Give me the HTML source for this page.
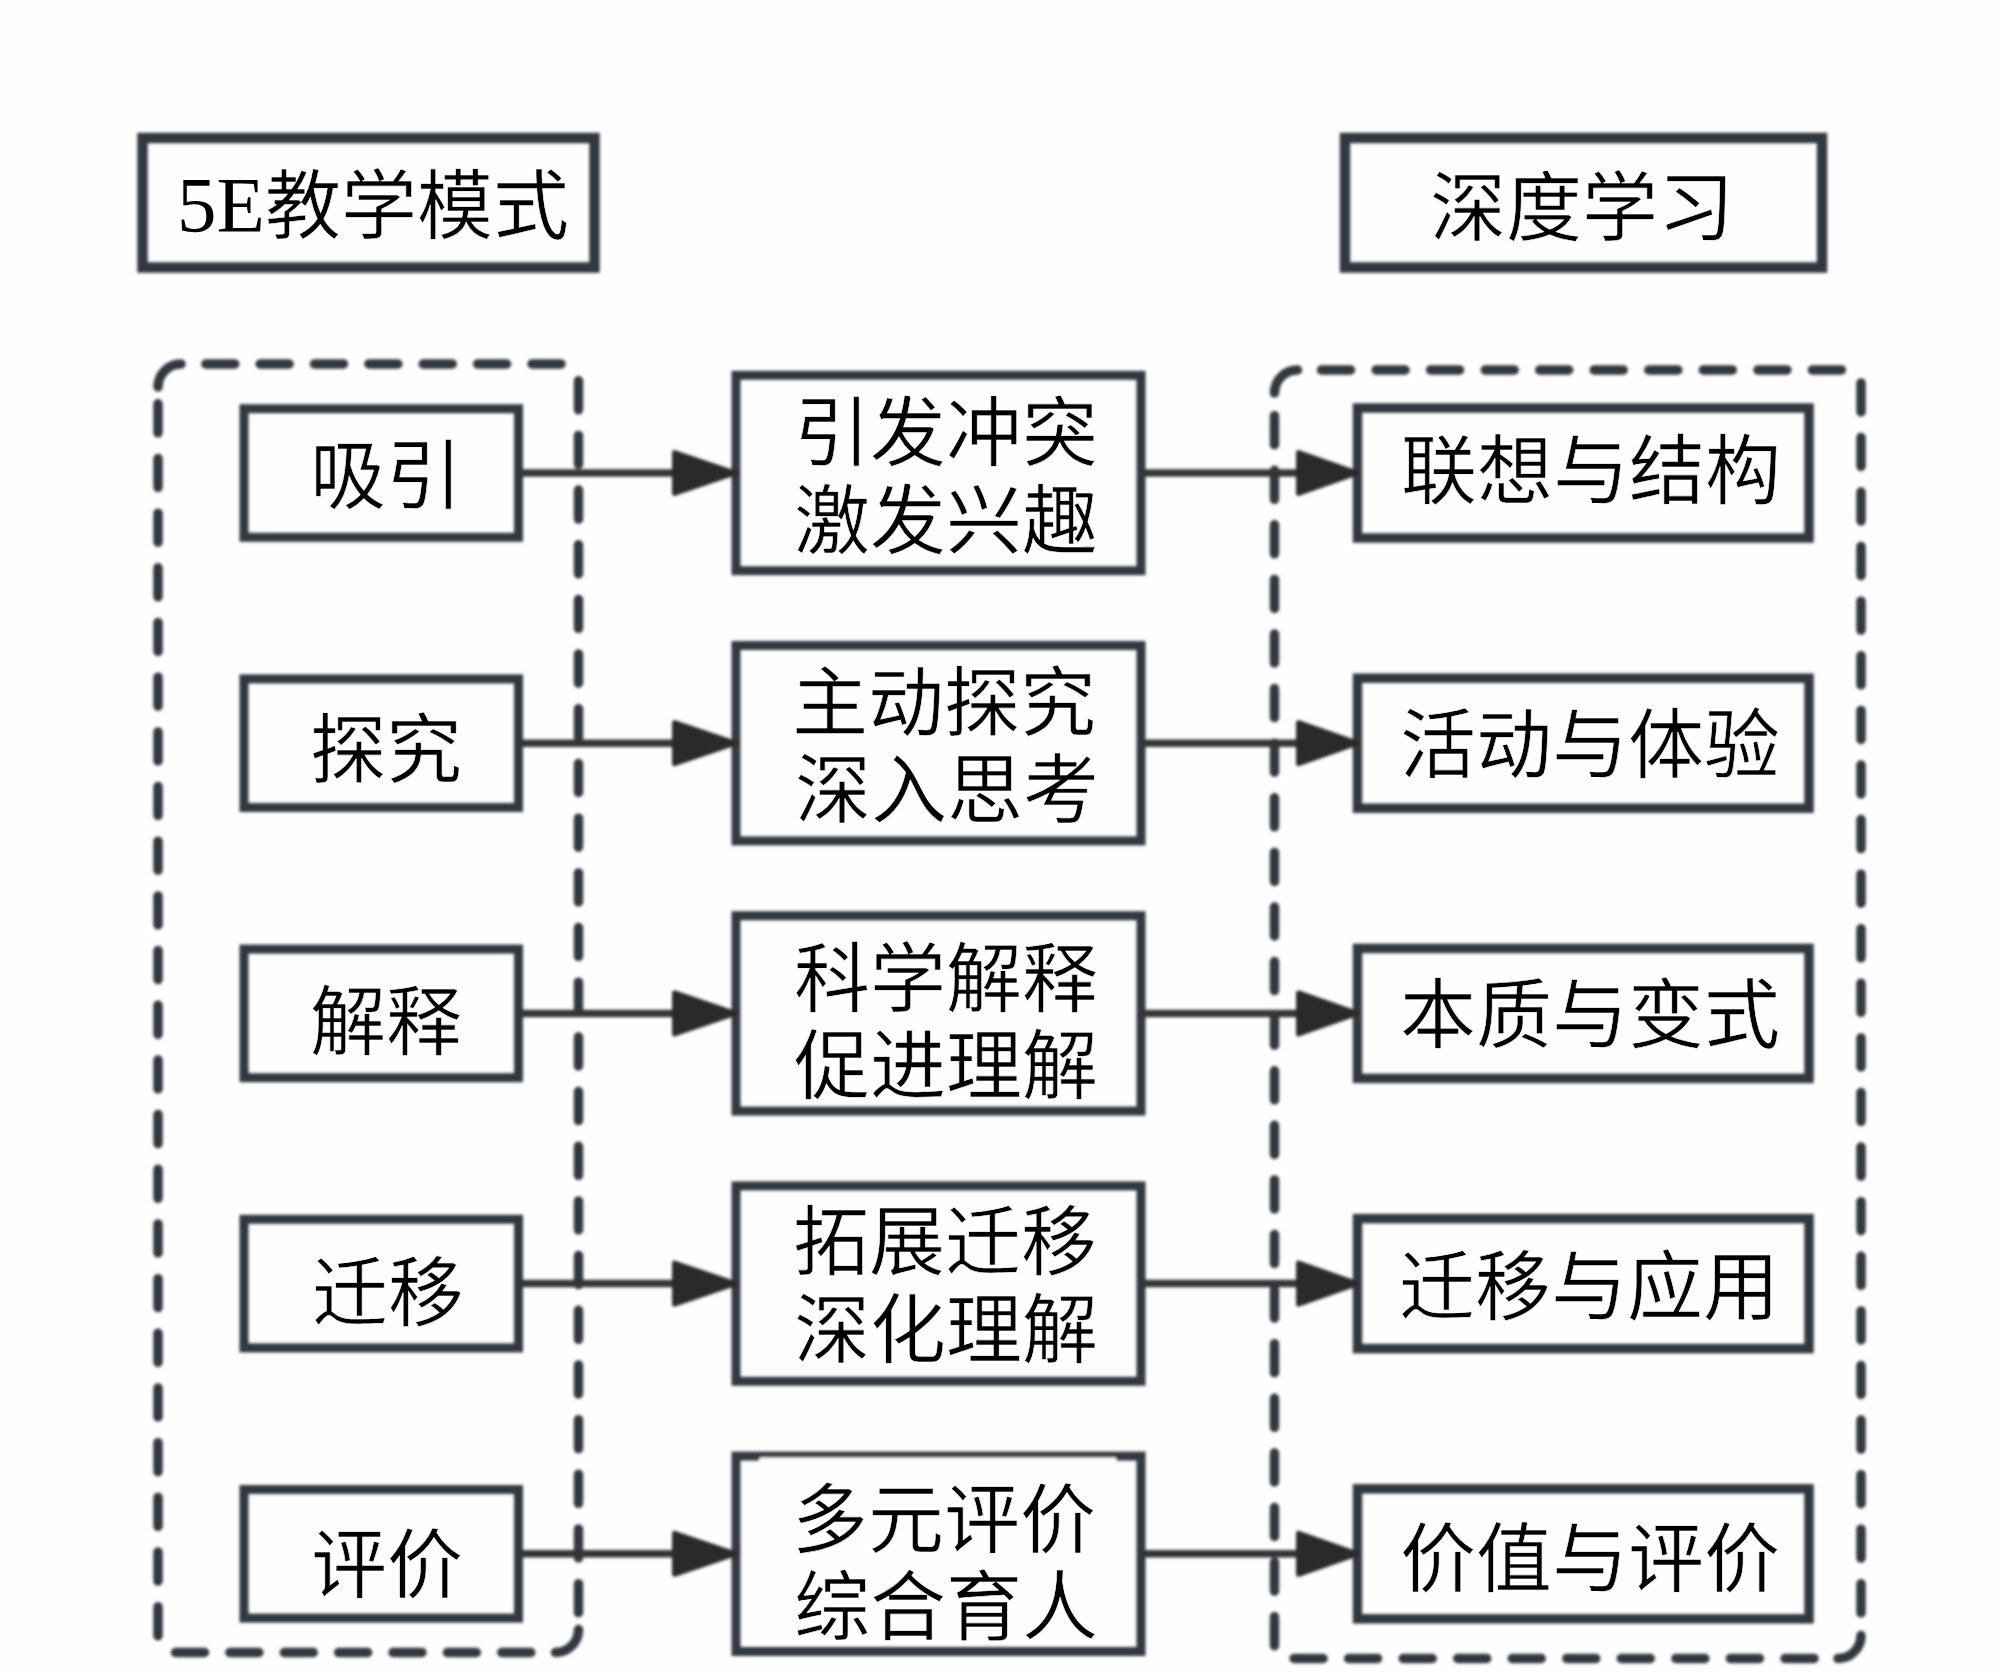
<!DOCTYPE html>
<html lang="zh-CN"><head><meta charset="utf-8"><style>
html,body{margin:0;padding:0;background:#fefefe;overflow:hidden;}
svg{display:block;}

text{font-family:"Liberation Serif",serif;font-size:76px;fill:#000;stroke:#fefefe;stroke-width:0.6px;paint-order:fill;}
</style></head><body>
<svg width="2000" height="1675" viewBox="0 0 2000 1675">
<defs><filter id="b" x="-2%" y="-2%" width="104%" height="104%"><feGaussianBlur stdDeviation="1.4"/></filter></defs>
<g filter="url(#b)">
<rect x="142.5" y="138" width="452.00" height="129.50" fill="none" stroke="#33393f" stroke-width="10.5"/>
<rect x="1345" y="138" width="477.00" height="129.50" fill="none" stroke="#33393f" stroke-width="10.5"/>
<path d="M205.8 364.0L234.8 364.0 M501.8 1652.5L530.8 1652.5 M260.1 364.0L289.1 364.0 M447.4 1652.5L476.4 1652.5 M314.5 364.0L343.5 364.0 M393.0 1652.5L422.0 1652.5 M368.9 364.0L397.9 364.0 M338.6 1652.5L367.6 1652.5 M423.2 364.0L452.2 364.0 M284.3 1652.5L313.3 1652.5 M477.6 364.0L506.6 364.0 M229.9 1652.5L258.9 1652.5 M532.0 364.0L561.0 364.0 M175.5 1652.5L204.5 1652.5 M578.5 380.8L578.5 409.8 M158.0 1606.8L158.0 1635.8 M578.5 435.4L578.5 464.4 M158.0 1552.1L158.0 1581.1 M578.5 490.1L578.5 519.1 M158.0 1497.4L158.0 1526.4 M578.5 544.8L578.5 573.8 M158.0 1442.7L158.0 1471.7 M578.5 599.5L578.5 628.5 M158.0 1388.0L158.0 1417.0 M578.5 654.1L578.5 683.1 M158.0 1333.3L158.0 1362.3 M578.5 708.8L578.5 737.8 M158.0 1278.7L158.0 1307.7 M578.5 763.5L578.5 792.5 M158.0 1224.0L158.0 1253.0 M578.5 818.2L578.5 847.2 M158.0 1169.3L158.0 1198.3 M578.5 872.9L578.5 901.9 M158.0 1114.6L158.0 1143.6 M578.5 927.5L578.5 956.5 M158.0 1060.0L158.0 1089.0 M578.5 982.2L578.5 1011.2 M158.0 1005.3L158.0 1034.3 M578.5 1036.9L578.5 1065.9 M158.0 950.6L158.0 979.6 M578.5 1091.6L578.5 1120.6 M158.0 895.9L158.0 924.9 M578.5 1146.3L578.5 1175.3 M158.0 841.2L158.0 870.2 M578.5 1201.0L578.5 1230.0 M158.0 786.5L158.0 815.5 M578.5 1255.6L578.5 1284.6 M158.0 731.9L158.0 760.9 M578.5 1310.3L578.5 1339.3 M158.0 677.2L158.0 706.2 M578.5 1365.0L578.5 1394.0 M158.0 622.5L158.0 651.5 M578.5 1419.7L578.5 1448.7 M158.0 567.8L158.0 596.8 M578.5 1474.3L578.5 1503.3 M158.0 513.2L158.0 542.2 M578.5 1529.0L578.5 1558.0 M158.0 458.5L158.0 487.5 M578.5 1583.7L578.5 1612.7 M158.0 403.8L158.0 432.8 M158 387 A23 23 0 0 1 181 364 M578.5 1629.5 A23 23 0 0 1 555.5 1652.5" fill="none" stroke="#33393f" stroke-width="9.5" stroke-linecap="round"/>
<path d="M1321.5 370.0L1350.5 370.0 M1785.0 1658.5L1814.0 1658.5 M1376.1 370.0L1405.1 370.0 M1730.4 1658.5L1759.4 1658.5 M1430.6 370.0L1459.6 370.0 M1675.9 1658.5L1704.9 1658.5 M1485.2 370.0L1514.2 370.0 M1621.3 1658.5L1650.3 1658.5 M1539.7 370.0L1568.7 370.0 M1566.8 1658.5L1595.8 1658.5 M1594.2 370.0L1623.2 370.0 M1512.2 1658.5L1541.2 1658.5 M1648.8 370.0L1677.8 370.0 M1457.7 1658.5L1486.7 1658.5 M1703.3 370.0L1732.3 370.0 M1403.2 1658.5L1432.2 1658.5 M1757.9 370.0L1786.9 370.0 M1348.6 1658.5L1377.6 1658.5 M1812.4 370.0L1841.4 370.0 M1294.1 1658.5L1323.1 1658.5 M1861.0 382.9L1861.0 411.9 M1274.5 1616.7L1274.5 1645.7 M1861.0 437.4L1861.0 466.4 M1274.5 1562.1L1274.5 1591.1 M1861.0 492.0L1861.0 521.0 M1274.5 1507.5L1274.5 1536.5 M1861.0 546.6L1861.0 575.6 M1274.5 1452.9L1274.5 1481.9 M1861.0 601.2L1861.0 630.2 M1274.5 1398.3L1274.5 1427.3 M1861.0 655.8L1861.0 684.8 M1274.5 1343.7L1274.5 1372.7 M1861.0 710.4L1861.0 739.4 M1274.5 1289.1L1274.5 1318.1 M1861.0 765.0L1861.0 794.0 M1274.5 1234.5L1274.5 1263.5 M1861.0 819.6L1861.0 848.6 M1274.5 1179.9L1274.5 1208.9 M1861.0 874.2L1861.0 903.2 M1274.5 1125.3L1274.5 1154.3 M1861.0 928.8L1861.0 957.8 M1274.5 1070.8L1274.5 1099.8 M1861.0 983.3L1861.0 1012.3 M1274.5 1016.2L1274.5 1045.2 M1861.0 1037.9L1861.0 1066.9 M1274.5 961.6L1274.5 990.6 M1861.0 1092.5L1861.0 1121.5 M1274.5 907.0L1274.5 936.0 M1861.0 1147.1L1861.0 1176.1 M1274.5 852.4L1274.5 881.4 M1861.0 1201.7L1861.0 1230.7 M1274.5 797.8L1274.5 826.8 M1861.0 1256.3L1861.0 1285.3 M1274.5 743.2L1274.5 772.2 M1861.0 1310.9L1861.0 1339.9 M1274.5 688.6L1274.5 717.6 M1861.0 1365.5L1861.0 1394.5 M1274.5 634.0L1274.5 663.0 M1861.0 1420.1L1861.0 1449.1 M1274.5 579.4L1274.5 608.4 M1861.0 1474.7L1861.0 1503.7 M1274.5 524.8L1274.5 553.8 M1861.0 1529.2L1861.0 1558.2 M1274.5 470.3L1274.5 499.3 M1861.0 1583.8L1861.0 1612.8 M1274.5 415.7L1274.5 444.7 M1274.5 393 A23 23 0 0 1 1297.5 370 M1861 1635.5 A23 23 0 0 1 1838 1658.5" fill="none" stroke="#33393f" stroke-width="9.5" stroke-linecap="round"/>
<rect x="244" y="408.7" width="274.50" height="128.60" fill="none" stroke="#33393f" stroke-width="9"/>
<rect x="736" y="375.3" width="405.00" height="195.40" fill="none" stroke="#33393f" stroke-width="9"/>
<rect x="1357.5" y="408" width="451.50" height="130.00" fill="none" stroke="#33393f" stroke-width="9.5"/>
<line x1="518" y1="473" x2="690" y2="473" stroke="#353535" stroke-width="7.5"/>
<path d="M674.5 452.5 L735 473 L674.5 493.5 Z" fill="#2c2c2c" stroke="#2c2c2c" stroke-width="5" stroke-linejoin="round"/>
<line x1="1141" y1="473" x2="1310" y2="473" stroke="#353535" stroke-width="7.5"/>
<path d="M1298.5 452.5 L1357 473 L1298.5 493.5 Z" fill="#2c2c2c" stroke="#2c2c2c" stroke-width="5" stroke-linejoin="round"/>
<rect x="244" y="678.9000000000001" width="274.50" height="128.60" fill="none" stroke="#33393f" stroke-width="9"/>
<rect x="736" y="645.5" width="405.00" height="195.40" fill="none" stroke="#33393f" stroke-width="9"/>
<rect x="1357.5" y="678.2" width="451.50" height="130.00" fill="none" stroke="#33393f" stroke-width="9.5"/>
<line x1="518" y1="743.2" x2="690" y2="743.2" stroke="#353535" stroke-width="7.5"/>
<path d="M674.5 722.7 L735 743.2 L674.5 763.7 Z" fill="#2c2c2c" stroke="#2c2c2c" stroke-width="5" stroke-linejoin="round"/>
<line x1="1141" y1="743.2" x2="1310" y2="743.2" stroke="#353535" stroke-width="7.5"/>
<path d="M1298.5 722.7 L1357 743.2 L1298.5 763.7 Z" fill="#2c2c2c" stroke="#2c2c2c" stroke-width="5" stroke-linejoin="round"/>
<rect x="244" y="949.1" width="274.50" height="128.60" fill="none" stroke="#33393f" stroke-width="9"/>
<rect x="736" y="915.6999999999999" width="405.00" height="195.40" fill="none" stroke="#33393f" stroke-width="9"/>
<rect x="1357.5" y="948.4" width="451.50" height="130.00" fill="none" stroke="#33393f" stroke-width="9.5"/>
<line x1="518" y1="1013.4" x2="690" y2="1013.4" stroke="#353535" stroke-width="7.5"/>
<path d="M674.5 992.9 L735 1013.4 L674.5 1033.9 Z" fill="#2c2c2c" stroke="#2c2c2c" stroke-width="5" stroke-linejoin="round"/>
<line x1="1141" y1="1013.4" x2="1310" y2="1013.4" stroke="#353535" stroke-width="7.5"/>
<path d="M1298.5 992.9 L1357 1013.4 L1298.5 1033.9 Z" fill="#2c2c2c" stroke="#2c2c2c" stroke-width="5" stroke-linejoin="round"/>
<rect x="244" y="1219.3" width="274.50" height="128.60" fill="none" stroke="#33393f" stroke-width="9"/>
<rect x="736" y="1185.8999999999999" width="405.00" height="195.40" fill="none" stroke="#33393f" stroke-width="9"/>
<rect x="1357.5" y="1218.6" width="451.50" height="130.00" fill="none" stroke="#33393f" stroke-width="9.5"/>
<line x1="518" y1="1283.6" x2="690" y2="1283.6" stroke="#353535" stroke-width="7.5"/>
<path d="M674.5 1263.1 L735 1283.6 L674.5 1304.1 Z" fill="#2c2c2c" stroke="#2c2c2c" stroke-width="5" stroke-linejoin="round"/>
<line x1="1141" y1="1283.6" x2="1310" y2="1283.6" stroke="#353535" stroke-width="7.5"/>
<path d="M1298.5 1263.1 L1357 1283.6 L1298.5 1304.1 Z" fill="#2c2c2c" stroke="#2c2c2c" stroke-width="5" stroke-linejoin="round"/>
<rect x="244" y="1489.5" width="274.50" height="128.60" fill="none" stroke="#33393f" stroke-width="9"/>
<rect x="736" y="1456.1" width="405.00" height="195.40" fill="none" stroke="#33393f" stroke-width="9"/>
<rect x="1357.5" y="1488.8" width="451.50" height="130.00" fill="none" stroke="#33393f" stroke-width="9.5"/>
<line x1="518" y1="1553.8" x2="690" y2="1553.8" stroke="#353535" stroke-width="7.5"/>
<path d="M674.5 1533.3 L735 1553.8 L674.5 1574.3 Z" fill="#2c2c2c" stroke="#2c2c2c" stroke-width="5" stroke-linejoin="round"/>
<line x1="1141" y1="1553.8" x2="1310" y2="1553.8" stroke="#353535" stroke-width="7.5"/>
<path d="M1298.5 1533.3 L1357 1553.8 L1298.5 1574.3 Z" fill="#2c2c2c" stroke="#2c2c2c" stroke-width="5" stroke-linejoin="round"/>
<rect x="759.6" y="1457.5" width="356.4" height="4.5" fill="#fefefe"/>
</g>
<text id="L0" x="385.5" y="503.0" text-anchor="middle">吸引</text>
<text id="M0a" x="946.4" y="460.0" text-anchor="middle">引发冲突</text>
<text id="M0b" x="945.8" y="548.4" text-anchor="middle">激发兴趣</text>
<text id="R0" x="1590.5" y="497.8" text-anchor="middle">联想与结构</text>
<text id="L1" x="386.3" y="777.3" text-anchor="middle">探究</text>
<text id="M1a" x="944.4" y="730.2" text-anchor="middle">主动探究</text>
<text id="M1b" x="946.9" y="816.8" text-anchor="middle">深入思考</text>
<text id="R1" x="1589.5" y="771.6" text-anchor="middle">活动与体验</text>
<text id="L2" x="386.0" y="1048.5" text-anchor="middle">解释</text>
<text id="M2a" x="945.9" y="1005.5" text-anchor="middle">科学解释</text>
<text id="M2b" x="946.4" y="1093.2" text-anchor="middle">促进理解</text>
<text id="R2" x="1590.0" y="1041.8" text-anchor="middle">本质与变式</text>
<text id="L3" x="387.9" y="1319.8" text-anchor="middle">迁移</text>
<text id="M3a" x="945.4" y="1268.6" text-anchor="middle">拓展迁移</text>
<text id="M3b" x="945.8" y="1357.3" text-anchor="middle">深化理解</text>
<text id="R3" x="1589.3" y="1313.7" text-anchor="middle">迁移与应用</text>
<text id="L4" x="387.4" y="1591.6" text-anchor="middle">评价</text>
<text id="M4a" x="944.4" y="1547.0" text-anchor="middle">多元评价</text>
<text id="M4b" x="945.8" y="1633.6" text-anchor="middle">综合育人</text>
<text id="R4" x="1590.0" y="1585.5" text-anchor="middle">价值与评价</text>
<text id="TL" x="373.0" y="232.8" text-anchor="middle"><tspan dy="-2" style="font-size:79px;stroke-width:0">5E</tspan><tspan dy="2">教学模式</tspan></text>
<text id="TR" x="1581.5" y="234.5" text-anchor="middle">深度学习</text>
</svg></body></html>
